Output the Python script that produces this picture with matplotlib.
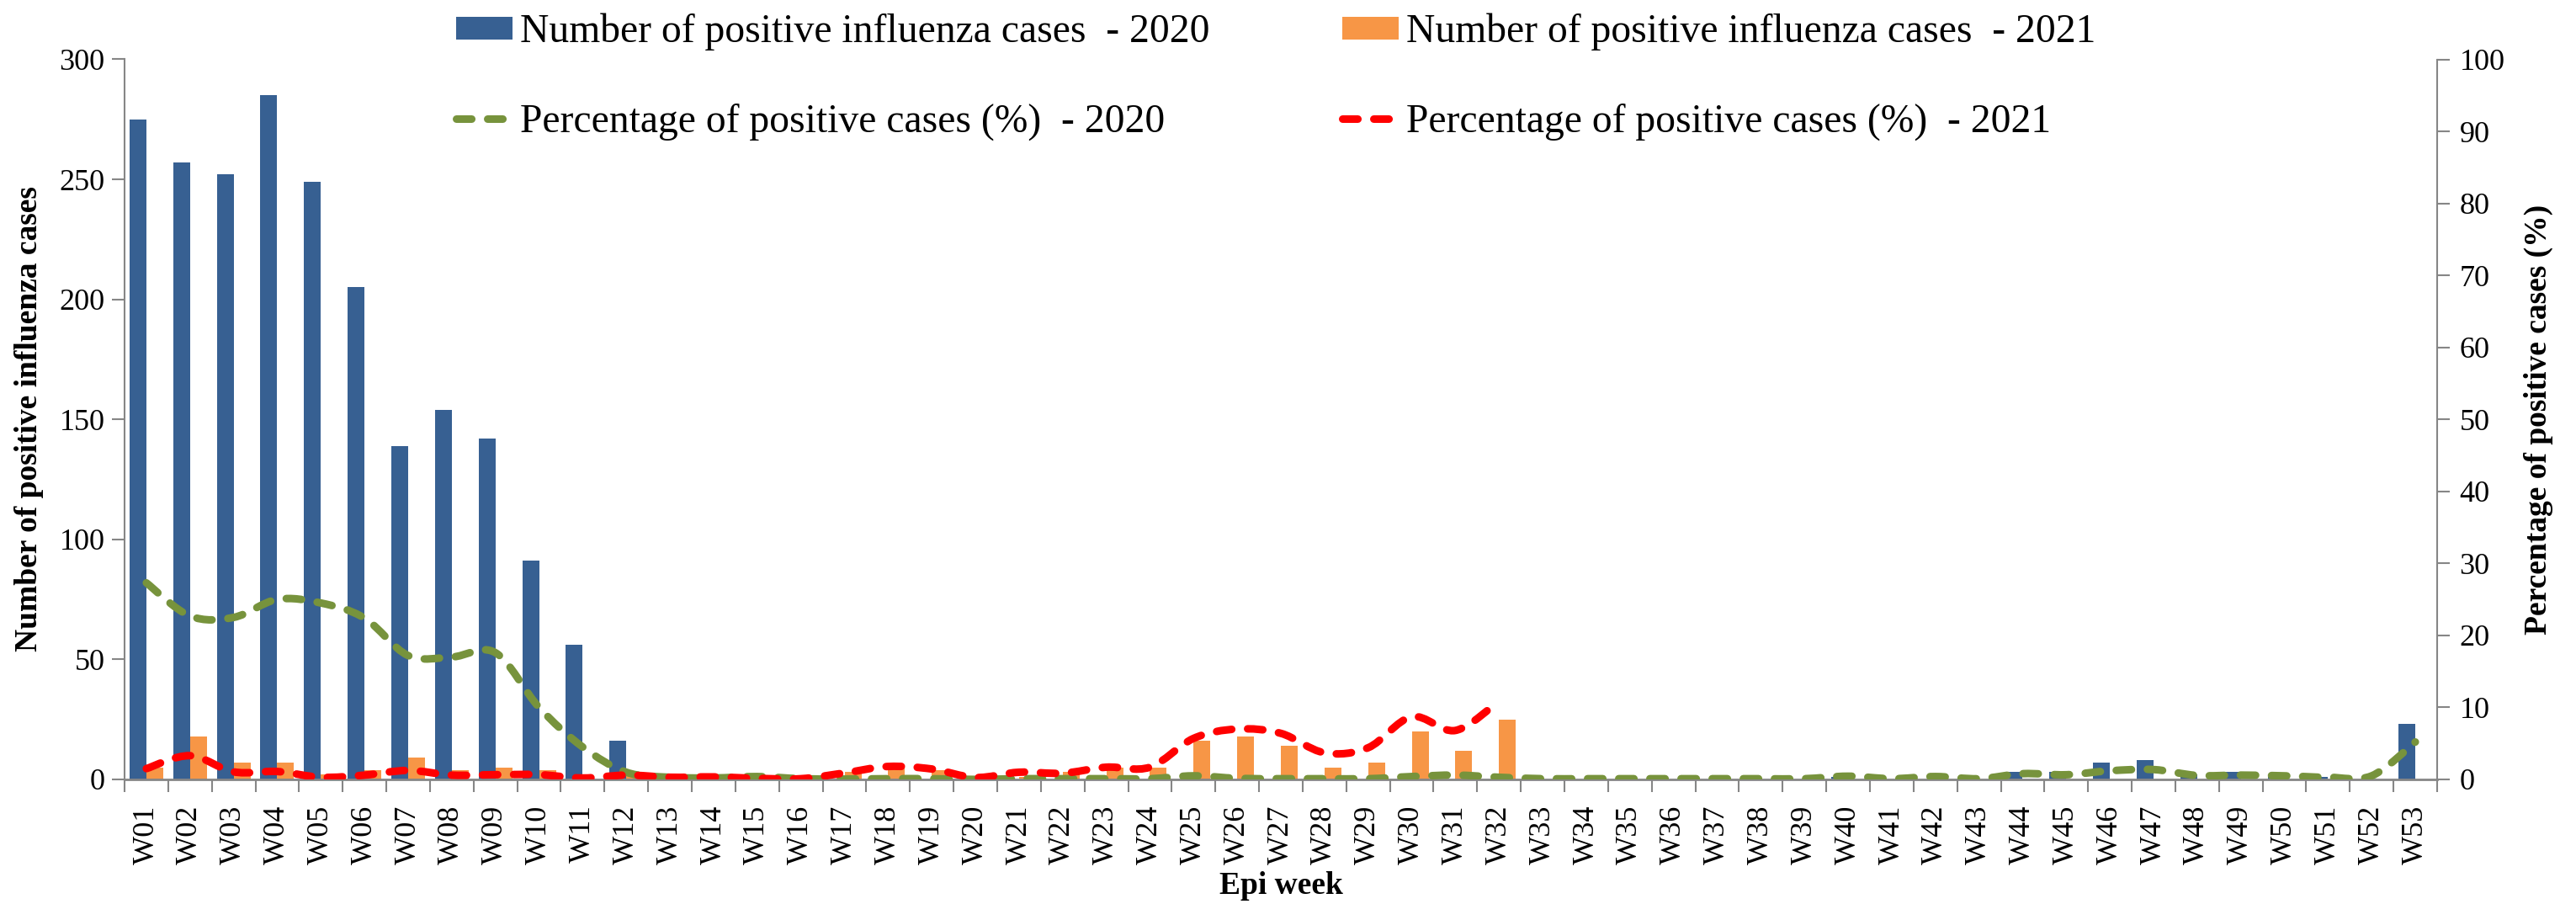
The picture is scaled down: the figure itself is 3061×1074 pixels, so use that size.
import numpy as np
import matplotlib
matplotlib.use("Agg")
import matplotlib.pyplot as plt
from matplotlib.path import Path
from matplotlib.patches import PathPatch, Patch
from matplotlib.lines import Line2D

plt.rcParams['font.family'] = ['Liberation Serif', 'DejaVu Serif']

# ---------------- data ----------------
weeks = ["W01", "W02", "W03", "W04", "W05", "W06", "W07", "W08", "W09", "W10",
         "W11", "W12", "W13", "W14", "W15", "W16", "W17", "W18", "W19", "W20",
         "W21", "W22", "W23", "W24", "W25", "W26", "W27", "W28", "W29", "W30",
         "W31", "W32", "W33", "W34", "W35", "W36", "W37", "W38", "W39", "W40",
         "W41", "W42", "W43", "W44", "W45", "W46", "W47", "W48", "W49", "W50",
         "W51", "W52", "W53"]

cases_2020 = [275, 257, 252, 285, 249, 205, 139, 154, 142, 91,
              56, 16, 0, 0, 0, 0, 0, 0, 0, 0,
              0, 0, 0, 0, 0, 0, 0, 0, 0, 0,
              0, 0, 0, 0, 0, 0, 0, 0, 0, 1,
              0, 0, 0, 3, 3, 7, 8, 2, 3, 2,
              1, 0, 23]

cases_2021 = [5, 18, 7, 7, 2, 4, 9, 4, 5, 4,
              0, 2, 1, 1, 1, 0, 3, 5, 4, 0,
              1, 3, 5, 5, 16, 18, 14, 5, 7, 20,
              12, 25]

pct_2020 = [27.3, 22.7, 22.5, 25.0, 24.5, 22.4, 17.2, 17.0, 17.6, 10.0,
            4.5, 1.0, 0.3, 0.2, 0.4, 0.1, 0.05, 0.1, 0.1, 0.0,
            0.1, 0.1, 0.1, 0.1, 0.5, 0.15, 0.1, 0.1, 0.1, 0.4,
            0.6, 0.3, 0.1, 0.1, 0.1, 0.1, 0.1, 0.1, 0.1, 0.45,
            0.1, 0.4, 0.1, 0.8, 0.65, 1.2, 1.37, 0.55, 0.6, 0.5,
            0.3, 0.5, 5.2]

pct_2021 = [1.5, 3.3, 1.05, 1.1, 0.3, 0.6, 1.25, 0.6, 0.66, 0.66,
            0.2, 0.6, 0.3, 0.35, 0.15, 0.1, 0.9, 1.8, 1.45, 0.27,
            1.0, 0.86, 1.7, 1.7, 5.7, 7.0, 6.4, 3.7, 4.4, 8.7,
            6.8, 10.9]

labels = ["Number of positive influenza cases  - 2020",
          "Percentage of positive cases (%)  - 2020",
          "Number of positive influenza cases  - 2021",
          "Percentage of positive cases (%)  - 2021"]

# ---------------- style ----------------
C_BLUE = "#376092"
C_ORANGE = "#F79646"
C_GREEN = "#77933C"
C_RED = "#FF0000"
C_AXIS = "#868686"
LW = 6.5
DASH = (2.0, 2.1)

W, H = 3061, 1074
fig = plt.figure(figsize=(W / 100, H / 100), dpi=100)
ax = fig.add_axes([148 / W, 1 - 926 / H, (2896 - 148) / W, (926 - 70.5) / H])
ax2 = ax.twinx()

x = np.arange(len(weeks))
bw = 0.386
ax.bar(x - 0.193, cases_2020, width=bw, color=C_BLUE, zorder=2)
x21 = np.arange(len(cases_2021))
ax.bar(x21 + 0.193, cases_2021, width=bw, color=C_ORANGE, zorder=2)


def smooth_path(xs, ys):
    pts = np.column_stack([xs, ys]).astype(float)
    n = len(pts)
    verts = [pts[0]]
    codes = [Path.MOVETO]
    for i in range(n - 1):
        p0 = pts[i - 1] if i > 0 else pts[i]
        p1 = pts[i]
        p2 = pts[i + 1]
        p3 = pts[i + 2] if i + 2 < n else pts[i + 1]
        c1 = p1 + (p2 - p0) / 6.0
        c2 = p2 - (p3 - p1) / 6.0
        verts += [c1, c2, p2]
        codes += [Path.CURVE4] * 3
    return Path(np.array(verts), codes)


for xs, ys, col in [(x, pct_2020, C_GREEN), (x21, pct_2021, C_RED)]:
    pp = PathPatch(smooth_path(xs, ys), fill=False, edgecolor=col,
                   linewidth=LW, linestyle=(0, DASH), zorder=3)
    pp.set_capstyle('round')
    pp.set_joinstyle('round')
    ax2.add_patch(pp)

# axes limits / ticks
ax.set_xlim(-0.5, len(weeks) - 0.5)
ax.set_ylim(0, 300)
ax2.set_ylim(0, 100)
ax.set_yticks(np.arange(0, 301, 50))
ax2.set_yticks(np.arange(0, 101, 10))
ax.set_xticks(x)
ax.set_xticklabels(weeks, rotation=90, fontsize=26)
ax.set_xticks(np.arange(-0.5, len(weeks), 1.0), minor=True)
ax.tick_params(axis='x', which='major', length=0, pad=22)
ax.tick_params(axis='x', which='minor', length=11, width=1.5, color=C_AXIS)
ax.tick_params(axis='y', length=11, width=1.5, color=C_AXIS, labelsize=26, pad=6)
ax2.tick_params(axis='y', length=11, width=1.5, color=C_AXIS, labelsize=26, pad=8)

for a in (ax, ax2):
    a.spines['top'].set_visible(False)
    for s in ('left', 'right', 'bottom'):
        a.spines[s].set_color(C_AXIS)
        a.spines[s].set_linewidth(1.5)
ax.spines['right'].set_visible(False)
ax2.spines['left'].set_visible(False)
ax2.spines['bottom'].set_visible(False)
ax.spines['bottom'].set_linewidth(2.0)

fig.text(35 / W, 1 - 498 / H, "Number of positive influenza cases", rotation=90,
         ha='center', va='center', fontsize=27, fontweight='bold')
fig.text(3016 / W, 1 - 498 / H, "Percentage of positive cases (%)", rotation=90,
         ha='center', va='center', fontsize=27, fontweight='bold')
fig.text(1522 / W, 1 - 1052 / H, "Epi week", ha='center', va='center',
         fontsize=27, fontweight='bold')

handles = [Patch(facecolor=C_BLUE, edgecolor='none'),
           Line2D([], [], color=C_GREEN, lw=LW, linestyle=(0, DASH), dash_capstyle='round'),
           Patch(facecolor=C_ORANGE, edgecolor='none'),
           Line2D([], [], color=C_RED, lw=LW, linestyle=(0, DASH), dash_capstyle='round')]
fig.legend(handles, labels, ncol=2, loc='upper left',
           bbox_to_anchor=(542 / W, 1 - 16 / H), frameon=False, fontsize=34.3,
           handlelength=1.4, handleheight=0.5, handletextpad=0.2,
           columnspacing=3.3, labelspacing=1.3, borderpad=0, borderaxespad=0)

fig.savefig("out.png", dpi=100)
